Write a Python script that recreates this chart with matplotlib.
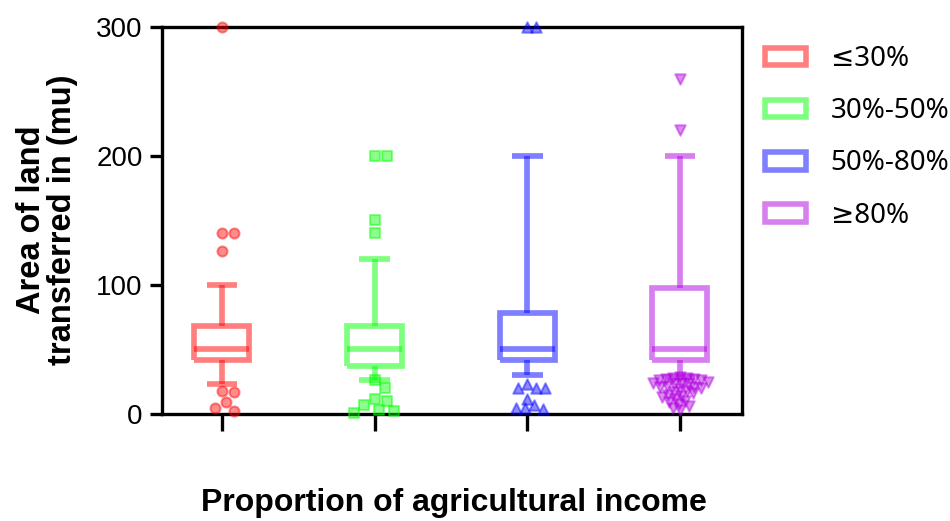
import numpy as np
import matplotlib
matplotlib.use("Agg")
import matplotlib.pyplot as plt
from matplotlib.patches import Patch
from matplotlib.colors import to_rgba

# groups and colours
groups = ["≤30%", "30%-50%", "50%-80%", "≥80%"]
colors = ["#FF0000", "#00FF00", "#0000FF", "#B000E0"]
markers = ["o", "s", "^", "v"]

# box statistics (mu)
q1 = [42, 37, 42, 42]
med = [50, 50, 50, 50]
q3 = [68, 68, 78, 98]
whis_lo = [23, 26, 30, 29]
whis_hi = [100, 120, 200, 200]

# points outside the whiskers
out_le30 = [300, 140, 140, 126, 18, 17, 9, 5, 2]
out_30_50 = [200, 200, 150, 140, 26, 20, 12, 10, 7, 3, 2, 1]
out_50_80 = [300, 300, 23, 20, 20, 20, 12, 7, 5, 5, 4]
out_ge80 = [260, 220, 29, 28, 28, 27, 27, 26, 26, 25, 24, 24, 23, 23, 22,
            21, 21, 20, 19, 18, 17, 16, 15, 14, 13, 12, 10, 9, 8, 6, 5, 3]
outliers = [out_le30, out_30_50, out_50_80, out_ge80]

fig = plt.figure(figsize=(9.5, 5.21), dpi=100)
ax = fig.add_axes([0.1705, 0.2054, 0.6105, 0.7428])
ax.set_xlim(0.607, 4.406)
ax.set_ylim(0, 300)

pos = np.arange(1, len(groups) + 1)
lw = 4.1
for i, c in enumerate(colors):
    col = to_rgba(c, 0.5)
    st = [dict(q1=q1[i], med=med[i], q3=q3[i], whislo=whis_lo[i],
               whishi=whis_hi[i], fliers=[])]
    line = dict(color=col, linewidth=lw, solid_capstyle="butt",
                solid_joinstyle="miter")
    ax.bxp(st, positions=[pos[i]], widths=0.36, capwidths=0.2,
           showfliers=False, boxprops=line, medianprops=line,
           whiskerprops=line, capprops=line, manage_ticks=False)


def swarm(x0, vals, d=8.0):
    # spread points sideways (in pixels) so the markers don't pile up
    tr = ax.transData
    pts = tr.transform(np.column_stack([np.full(len(vals), x0), vals]))
    cand = sorted(np.arange(-80, 81, 1.0), key=lambda v: (abs(v), -v))
    placed = []
    for px, py in pts:
        for dx in cand:
            ok = True
            for qx, qy in placed:
                if (px + dx - qx) ** 2 + (py - qy) ** 2 < d * d:
                    ok = False
                    break
            if ok:
                break
        placed.append((px + dx, py))
    return tr.inverted().transform(np.array(placed))


sizes = [52, 46, 56, 56]
spacing = [12, 12, 9, 6.5]
for i, c in enumerate(colors):
    xy = swarm(pos[i], outliers[i], spacing[i])
    ax.scatter(xy[:, 0], xy[:, 1], s=sizes[i], marker=markers[i],
               facecolor=to_rgba(c, 0.45), edgecolor=to_rgba(c, 0.45),
               linewidth=1.5, zorder=3, clip_on=False)

for s in ax.spines.values():
    s.set_linewidth(2.4)
ax.set_xticks(pos)
ax.set_xticklabels([])
ax.set_yticks([0, 100, 200, 300])
ax.tick_params(axis="x", direction="out", length=12, width=2.4)
ax.tick_params(axis="y", direction="out", length=9, width=2.4, pad=5,
               labelsize=20)
for t in ax.get_yticklabels():
    t.set_fontfamily("Liberation Sans")

fig.text(0.049, 0.578, "Area of land\ntransferred in (mu)", rotation=90,
         ha="center", va="center", multialignment="center",
         fontsize=23.5, fontweight="bold", family="Liberation Sans",
         linespacing=1.0)
fig.text(0.478, 0.035, "Proportion of agricultural income", ha="center",
         va="center", fontsize=23, fontweight="bold", family="Liberation Sans")

handles = [Patch(facecolor="white", edgecolor=to_rgba(c, 0.5), linewidth=4)
           for c in colors]
fig.legend(handles, groups, loc="upper left", bbox_to_anchor=(0.791, 0.94),
           frameon=False, borderpad=0, handlelength=1.45,
           handleheight=0.6, handletextpad=0.9, labelspacing=0.87,
           prop={"family": ["Noto Sans", "DejaVu Sans"], "size": 20})

fig.savefig("out.png", dpi=100)
